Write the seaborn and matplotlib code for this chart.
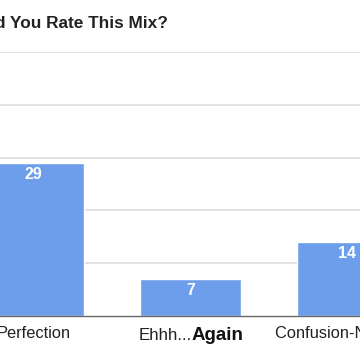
import pandas as pd
import matplotlib.pyplot as plt
import seaborn as sns

# chart data
categories = ["Perfection", "Ehhh... Again", "Confusion-Not Sure"]
votes = [29, 7, 14]
title = "How Would You Rate This Mix?"

sns.set_theme(style="white")
plt.rcParams['font.family'] = ['Liberation Sans', 'DejaVu Sans']

df = pd.DataFrame({"answer": categories, "votes": votes})

fig = plt.figure(figsize=(3.6, 3.6), dpi=100)
# the picture is a crop, so the axes run past the figure edges on purpose
ax = fig.add_axes([0, 44 / 360, 1, 264 / 360])

sns.barplot(data=df, x="answer", y="votes", color="#6d9eeb", width=0.643,
            saturation=1, ax=ax, zorder=2)

ax.set_xlim(-0.213, 2.080)
ax.set_ylim(0, 50)
ax.set_yticks([10, 20, 30, 40, 50])
ax.yaxis.grid(True, color="#dadada", linewidth=1.1, zorder=0)
ax.set_yticklabels([])
ax.tick_params(axis="y", length=0)
for s in ["top", "left", "right"]:
    ax.spines[s].set_visible(False)
ax.spines["bottom"].set_color("#666666")
ax.spines["bottom"].set_linewidth(1)
ax.set_xlabel("")
ax.set_ylabel("")

# value labels inside the top of each bar
for i, v in enumerate(votes):
    ax.annotate(str(v), (i, v), xytext=(0, -8.5), textcoords="offset points",
                ha="center", va="center", color="white", fontsize=11.5,
                fontweight="bold")

# tick labels, the middle one has mixed weights
labels = list(categories)
labels[1] = ""
ax.set_xticks(range(len(categories)))
ax.set_xticklabels(labels, fontsize=11.8, color="#222222")
ax.tick_params(axis="x", length=0, pad=7)

first, second = categories[1].split(" ")
trans = ax.get_xaxis_transform()
ax.annotate(first, (1, 0), xycoords=trans, xytext=(0.8, -17), textcoords="offset points",
            ha="right", va="baseline", fontsize=12.2, color="#222222")
ax.annotate(second, (1, 0), xycoords=trans, xytext=(1.0, -17), textcoords="offset points",
            ha="left", va="baseline", fontsize=13.5, fontweight="bold", color="#111111")

fig.text(168 / 360, 1 - 28 / 360, title, ha="right", va="baseline",
         fontsize=12.4, fontweight="bold", color="#222222")

fig.savefig("out.png", dpi=100)
